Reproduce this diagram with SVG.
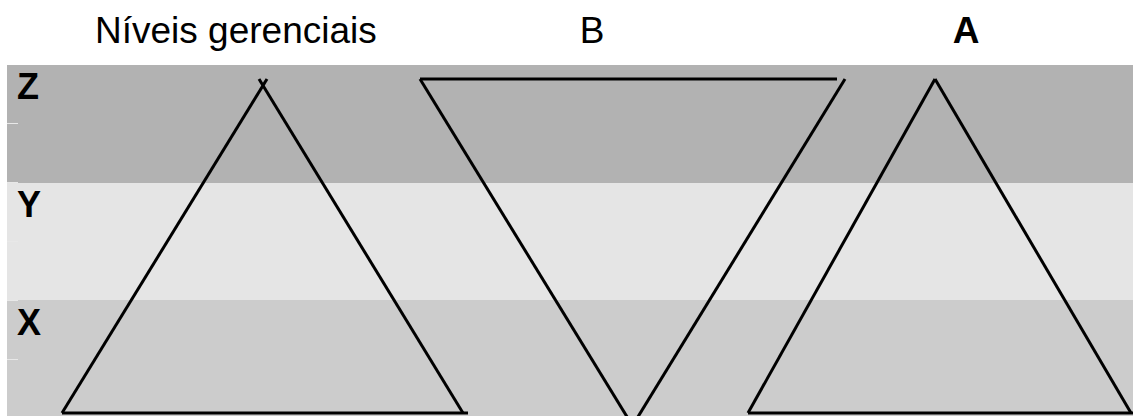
<svg xmlns="http://www.w3.org/2000/svg" width="1133" height="416" viewBox="0 0 1133 416">
<style>
.t{font-family:"Liberation Sans",Arial,sans-serif;fill:#000}
.b{font-weight:bold}
.ln{stroke:#000;stroke-width:3;fill:none}
.tk{stroke:#e8e8e8;stroke-width:1}
</style>
<rect width="1133" height="416" fill="#fff"/>
<g id="bands">
<rect x="7" y="65" width="1126" height="118" fill="#b2b2b2"/>
<rect x="7" y="183" width="1126" height="117" fill="#e5e5e5"/>
<rect x="7" y="300" width="1126" height="116" fill="#cccccc"/>
<line class="tk" x1="7" y1="123.5" x2="18" y2="123.5"/>
<line class="tk" x1="7" y1="182.5" x2="18" y2="182.5" stroke="#d0d0d0"/>
<line class="tk" x1="7" y1="241.5" x2="18" y2="241.5" stroke="#f2f2f2"/>
<line class="tk" x1="7" y1="300.5" x2="18" y2="300.5" stroke="#dcdcdc"/>
<line class="tk" x1="7" y1="359.5" x2="18" y2="359.5"/>
</g>
<g id="labels">
<text class="t" x="95" y="43" font-size="37">Níveis gerenciais</text>
<text class="t" x="592" y="43" font-size="37" text-anchor="middle">B</text>
<text class="t b" x="966" y="43" font-size="37" text-anchor="middle">A</text>
<text class="t b" x="17" y="99" font-size="36">Z</text>
<text class="t b" x="17" y="217" font-size="36">Y</text>
<text class="t b" x="17" y="335" font-size="36">X</text>
</g>
<g id="connectors">
<g id="triangle-1">
<line class="ln" x1="62" y1="413" x2="267" y2="79"/>
<line class="ln" x1="463" y1="413" x2="259" y2="79"/>
<line class="ln" x1="62" y1="413" x2="468" y2="413"/>
</g>
<g id="triangle-B">
<line class="ln" x1="420" y1="79" x2="837" y2="79"/>
<line class="ln" x1="420" y1="79" x2="629" y2="420"/>
<line class="ln" x1="845" y1="79" x2="636" y2="420"/>
</g>
<g id="triangle-A">
<line class="ln" x1="935" y1="79" x2="748" y2="413"/>
<line class="ln" x1="935" y1="79" x2="1131" y2="413"/>
<line class="ln" x1="748" y1="413" x2="1133" y2="413"/>
</g>
</g>
</svg>
